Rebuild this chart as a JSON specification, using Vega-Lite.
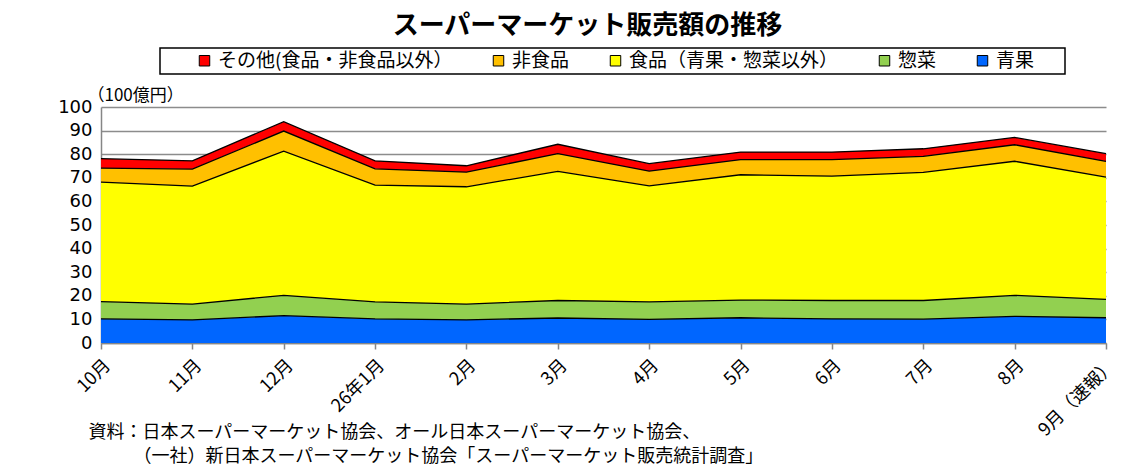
{
  "$schema": "https://vega.github.io/schema/vega-lite/v6.json",
  "width": 1005,
  "height": 236,
  "autosize": {"type": "none"},
  "padding": {"left": 101, "top": 107, "right": 34, "bottom": 127},
  "background": "white",
  "title": {
    "text": "スーパーマーケット販売額の推移",
    "font": "Noto Sans CJK JP",
    "fontSize": 26,
    "fontWeight": "bold",
    "color": "black",
    "anchor": "middle",
    "frame": "group",
    "dx": -16,
    "offset": 8
  },
  "data": {
    "values": [
      {"m": "10月", "s": "青果", "k": 1, "v": 10.2},
      {"m": "10月", "s": "惣菜", "k": 2, "v": 7.3},
      {"m": "10月", "s": "食品（青果・惣菜以外）", "k": 3, "v": 50.7},
      {"m": "10月", "s": "非食品", "k": 4, "v": 5.9},
      {"m": "10月", "s": "その他(食品・非食品以外）", "k": 5, "v": 4.0},
      {"m": "11月", "s": "青果", "k": 1, "v": 9.8},
      {"m": "11月", "s": "惣菜", "k": 2, "v": 6.7},
      {"m": "11月", "s": "食品（青果・惣菜以外）", "k": 3, "v": 50.0},
      {"m": "11月", "s": "非食品", "k": 4, "v": 7.2},
      {"m": "11月", "s": "その他(食品・非食品以外）", "k": 5, "v": 3.5},
      {"m": "12月", "s": "青果", "k": 1, "v": 11.6},
      {"m": "12月", "s": "惣菜", "k": 2, "v": 8.6},
      {"m": "12月", "s": "食品（青果・惣菜以外）", "k": 3, "v": 61.1},
      {"m": "12月", "s": "非食品", "k": 4, "v": 8.5},
      {"m": "12月", "s": "その他(食品・非食品以外）", "k": 5, "v": 4.0},
      {"m": "26年1月", "s": "青果", "k": 1, "v": 10.2},
      {"m": "26年1月", "s": "惣菜", "k": 2, "v": 7.2},
      {"m": "26年1月", "s": "食品（青果・惣菜以外）", "k": 3, "v": 49.5},
      {"m": "26年1月", "s": "非食品", "k": 4, "v": 6.9},
      {"m": "26年1月", "s": "その他(食品・非食品以外）", "k": 5, "v": 3.4},
      {"m": "2月", "s": "青果", "k": 1, "v": 9.8},
      {"m": "2月", "s": "惣菜", "k": 2, "v": 6.7},
      {"m": "2月", "s": "食品（青果・惣菜以外）", "k": 3, "v": 49.7},
      {"m": "2月", "s": "非食品", "k": 4, "v": 6.2},
      {"m": "2月", "s": "その他(食品・非食品以外）", "k": 5, "v": 2.7},
      {"m": "3月", "s": "青果", "k": 1, "v": 10.6},
      {"m": "3月", "s": "惣菜", "k": 2, "v": 7.4},
      {"m": "3月", "s": "食品（青果・惣菜以外）", "k": 3, "v": 54.7},
      {"m": "3月", "s": "非食品", "k": 4, "v": 7.5},
      {"m": "3月", "s": "その他(食品・非食品以外）", "k": 5, "v": 4.0},
      {"m": "4月", "s": "青果", "k": 1, "v": 10.0},
      {"m": "4月", "s": "惣菜", "k": 2, "v": 7.4},
      {"m": "4月", "s": "食品（青果・惣菜以外）", "k": 3, "v": 49.2},
      {"m": "4月", "s": "非食品", "k": 4, "v": 6.2},
      {"m": "4月", "s": "その他(食品・非食品以外）", "k": 5, "v": 3.2},
      {"m": "5月", "s": "青果", "k": 1, "v": 10.7},
      {"m": "5月", "s": "惣菜", "k": 2, "v": 7.5},
      {"m": "5月", "s": "食品（青果・惣菜以外）", "k": 3, "v": 53.1},
      {"m": "5月", "s": "非食品", "k": 4, "v": 6.4},
      {"m": "5月", "s": "その他(食品・非食品以外）", "k": 5, "v": 3.2},
      {"m": "6月", "s": "青果", "k": 1, "v": 10.2},
      {"m": "6月", "s": "惣菜", "k": 2, "v": 7.8},
      {"m": "6月", "s": "食品（青果・惣菜以外）", "k": 3, "v": 52.7},
      {"m": "6月", "s": "非食品", "k": 4, "v": 7.0},
      {"m": "6月", "s": "その他(食品・非食品以外）", "k": 5, "v": 3.2},
      {"m": "7月", "s": "青果", "k": 1, "v": 10.1},
      {"m": "7月", "s": "惣菜", "k": 2, "v": 7.9},
      {"m": "7月", "s": "食品（青果・惣菜以外）", "k": 3, "v": 54.3},
      {"m": "7月", "s": "非食品", "k": 4, "v": 6.8},
      {"m": "7月", "s": "その他(食品・非食品以外）", "k": 5, "v": 3.2},
      {"m": "8月", "s": "青果", "k": 1, "v": 11.3},
      {"m": "8月", "s": "惣菜", "k": 2, "v": 8.9},
      {"m": "8月", "s": "食品（青果・惣菜以外）", "k": 3, "v": 56.8},
      {"m": "8月", "s": "非食品", "k": 4, "v": 7.0},
      {"m": "8月", "s": "その他(食品・非食品以外）", "k": 5, "v": 3.1},
      {"m": "9月（速報）", "s": "青果", "k": 1, "v": 10.7},
      {"m": "9月（速報）", "s": "惣菜", "k": 2, "v": 7.8},
      {"m": "9月（速報）", "s": "食品（青果・惣菜以外）", "k": 3, "v": 51.8},
      {"m": "9月（速報）", "s": "非食品", "k": 4, "v": 6.7},
      {"m": "9月（速報）", "s": "その他(食品・非食品以外）", "k": 5, "v": 3.2}
    ]
  },
  "encoding": {
    "x": {
      "field": "m",
      "type": "nominal",
      "sort": ["10月", "11月", "12月", "26年1月", "2月", "3月", "4月", "5月", "6月", "7月", "8月", "9月（速報）"],
      "scale": {"type": "point", "padding": 0},
      "axis": {
        "title": ["資料：日本スーパーマーケット協会、オール日本スーパーマーケット協会、", "\u200b　　　（一社）新日本スーパーマーケット協会「スーパーマーケット販売統計調査」"],
        "titleFont": "Noto Sans CJK JP",
        "titleFontSize": 18,
        "titleFontWeight": "normal",
        "titleColor": "black",
        "titleAnchor": "start",
        "titleAlign": "left",
        "titleBaseline": "top",
        "titleX": -13,
        "titleY": 80,
        "titleLineHeight": 24,
        "labelAngle": -45,
        "labelAlign": "right",
        "labelBaseline": "top",
        "labelFont": "Noto Sans CJK JP",
        "labelFontSize": 18,
        "labelColor": "black",
        "labelPadding": 7,
        "labelLimit": 200,
        "domainColor": "#868686",
        "domainWidth": 1.5,
        "tickColor": "#868686",
        "tickSize": 6,
        "tickWidth": 1.5,
        "grid": false
      }
    },
    "y": {
      "field": "v",
      "type": "quantitative",
      "stack": "zero",
      "scale": {"domain": [0, 100], "nice": false},
      "axis": {
        "values": [0, 10, 20, 30, 40, 50, 60, 70, 80, 90, 100],
        "title": "（100億円）",
        "titleFont": "Noto Sans CJK JP",
        "titleFontSize": 17,
        "titleFontWeight": "normal",
        "titleColor": "black",
        "titleAngle": 0,
        "titleAlign": "left",
        "titleBaseline": "alphabetic",
        "titleX": -14,
        "titleY": -7,
        "labelFont": "DejaVu Sans",
        "labelFontSize": 18,
        "labelColor": "black",
        "labelPadding": 9,
        "ticks": false,
        "domainColor": "#868686",
        "domainWidth": 1.5,
        "grid": true,
        "gridColor": "#8c8c8c",
        "gridWidth": 1.5
      }
    },
    "order": {"field": "k", "type": "quantitative", "sort": "ascending"}
  },
  "layer": [
    {
      "mark": {"type": "area", "opacity": 1},
      "encoding": {
        "color": {
          "field": "s",
          "type": "nominal",
          "scale": {
            "domain": ["その他(食品・非食品以外）", "非食品", "食品（青果・惣菜以外）", "惣菜", "青果"],
            "range": ["#FF0000", "#FFC000", "#FFFF00", "#92D050", "#0066FF"]
          },
          "legend": {
            "orient": "none",
            "legendX": 59,
            "legendY": -59,
            "direction": "horizontal",
            "title": "　",
            "titleOrient": "left",
            "titleFontSize": 19,
            "titleFont": "Noto Sans CJK JP",
            "titlePadding": 32,
            "symbolType": "square",
            "symbolSize": 110,
            "symbolStrokeColor": "black",
            "symbolStrokeWidth": 1,
            "symbolOpacity": 1,
            "labelFont": "Noto Sans CJK JP",
            "labelFontSize": 19,
            "labelColor": "black",
            "labelOffset": 4,
            "labelLimit": 400,
            "labelExpr": "datum.label == '青果' ? datum.label + '　  \u200b' : datum.label",
            "columnPadding": 36,
            "padding": 3,
            "strokeColor": "black"
          }
        }
      }
    },
    {
      "mark": {"type": "line", "color": "black", "strokeWidth": 1.3},
      "encoding": {
        "detail": {"field": "s", "type": "nominal"}
      }
    }
  ],
  "config": {
    "view": {"stroke": null},
    "legend": {"strokeWidth": 1.5}
  }
}
